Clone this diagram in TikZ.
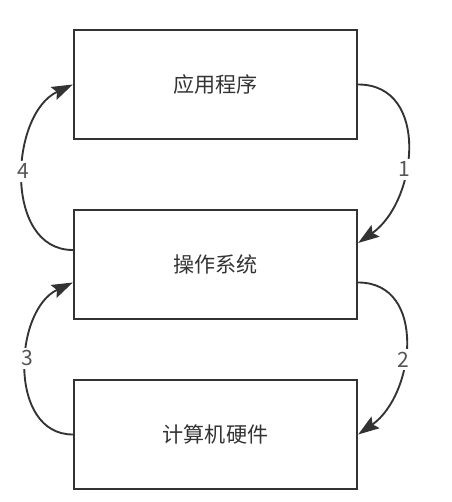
\documentclass[tikz,border=0pt]{standalone}
\usepackage{fontspec}
\setmainfont{Noto Sans CJK SC}
\usepackage{xcolor}
\usepackage{tikz}
\usetikzlibrary{arrows.meta}
\definecolor{lineColor}{HTML}{333333}
\definecolor{labelColor}{HTML}{555555}

\begin{document}
\begin{tikzpicture}[
    layer/.style={draw=lineColor, line width=2pt, minimum width=8.49cm, minimum height=3.27cm, text=lineColor, font=\fontsize{18}{20}\selectfont, align=center},
    arrow/.style={-{Stealth[length=18pt, width=12pt, inset=3pt]}, line width=1.6pt, lineColor},
    num/.style={fill=white, text=labelColor, inner sep=2.5pt, font=\fontsize{18}{20}\selectfont}
]
    \useasboundingbox (0,0) rectangle (13.56,15.06);
    \node[layer] (app) at (6.465,12.525) {应用程序};
    \node[layer] (os) at (6.465,7.125) {操作系统};
    \node[layer] (hw) at (6.465,2.025) {计算机硬件};

    \draw[arrow] (app.east) to[out=0, in=35, looseness=1.17] node[num, pos=0.6] {1} ([yshift=0.645cm]os.east);
    \draw[arrow] ([yshift=-0.54cm]os.east) to[out=0, in=35, looseness=1.17] node[num, pos=0.58] {2} (hw.east);
    \draw[arrow] (hw.west) to[out=180, in=205, looseness=1.1] node[num, pos=0.55] {3} ([yshift=-0.54cm]os.west);
    \draw[arrow] ([yshift=0.435cm]os.west) to[out=180, in=205, looseness=1.08] node[num, pos=0.53] {4} (app.west);
\end{tikzpicture}
\end{document}
